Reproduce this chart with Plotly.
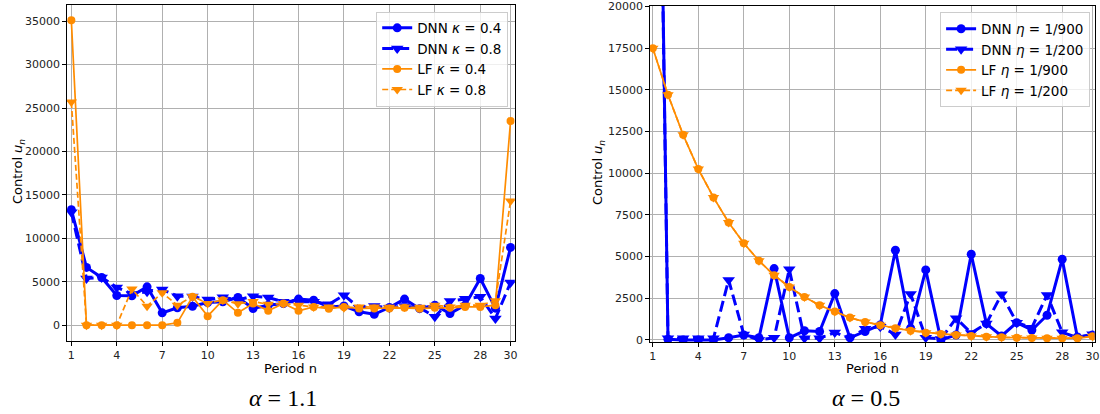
import plotly.graph_objects as go

periods = list(range(1, 31))
x_ticks = [1, 4, 7, 10, 13, 16, 19, 22, 25, 28, 30]
y_ticks_left = [0, 5000, 10000, 15000, 20000, 25000, 30000, 35000]
y_ticks_right = [0, 2500, 5000, 7500, 10000, 12500, 15000, 17500, 20000]

# alpha = 1.1 panel
dnn_k04 = [13300, 6650, 5490, 3420, 3380, 4410, 1420, 2000, 2180, 2600,
           2700, 3190, 1920, 2300, 2500, 3000, 2880, 2100, 2200, 1540,
           1250, 2030, 3000, 1900, 2300, 1340, 2300, 5370, 1960, 8950]
dnn_k08 = [13000, 5380, 5500, 4340, 3600, 3840, 4100, 3340, 3300, 2950,
           3200, 2900, 3340, 3190, 2700, 2700, 2700, 2400, 3450, 2000,
           2200, 2000, 2200, 2000, 960, 2770, 3030, 3260, 770, 4900]
lf_k04 = [35100, 0, 0, 0, 0, 0, 0, 270, 3260, 1040,
          2880, 1420, 2500, 1650, 2500, 1650, 2100, 1900, 2100, 1920,
          1920, 1920, 2000, 1900, 2000, 2000, 2100, 2100, 2300, 23500]
lf_k08 = [25700, 0, 0, 0, 4150, 2190, 3720, 2300, 3300, 2500,
          2900, 2460, 2720, 2400, 2500, 2300, 2100, 2100, 2000, 2100,
          2100, 2050, 2100, 2050, 2300, 2100, 2300, 2300, 2800, 14300]

# alpha = 0.5 panel
dnn_e900 = [62000, 40, 0, 0, 0, 130, 300, 130, 4280, 130,
            550, 510, 2780, 130, 510, 900, 5380, 700, 4200, 0,
            300, 5140, 980, 240, 1040, 600, 1480, 4840, 180, 300]
dnn_e200 = [60000, 100, 100, 100, 100, 3600, 330, 0, 130, 4240,
            100, 100, 450, 100, 680, 800, 330, 2760, 140, 60,
            1300, 420, 990, 2740, 1040, 740, 2700, 460, 140, 340]
lf_e900 = [17500, 14700, 12300, 10250, 8550, 7050, 5800, 4750, 3880, 3180,
           2580, 2080, 1700, 1340, 1080, 880, 700, 560, 440, 360,
           300, 240, 200, 160, 140, 120, 110, 100, 100, 220]
lf_e200 = [17500, 14700, 12300, 10250, 8550, 7050, 5800, 4750, 3880, 3180,
           2580, 2080, 1700, 1340, 1080, 880, 700, 560, 440, 360,
           300, 240, 200, 160, 140, 120, 110, 100, 100, 220]

BLUE = "#0000ff"
ORANGE = "#ff8c00"

fig = go.Figure()

def add(xref, yref, legend, y, name, color, width, dash, symbol, size):
    fig.add_trace(go.Scatter(
        x=periods, y=y, name=name, mode="lines+markers",
        xaxis=xref, yaxis=yref, legend=legend,
        line=dict(color=color, width=width, dash=dash),
        marker=dict(color=color, symbol=symbol, size=size),
    ))

add("x", "y", "legend", dnn_k04, "DNN <i>κ</i> = 0.4", BLUE, 3, "solid", "circle", 9)
add("x", "y", "legend", dnn_k08, "DNN <i>κ</i> = 0.8", BLUE, 3, "11px,5px", "triangle-down", 11)
add("x", "y", "legend", lf_k04, "LF <i>κ</i> = 0.4", ORANGE, 1.7, "solid", "circle", 8)
add("x", "y", "legend", lf_k08, "LF <i>κ</i> = 0.8", ORANGE, 1.7, "6px,3px", "triangle-down", 10)

add("x2", "y2", "legend2", dnn_e900, "DNN <i>η</i> = 1/900", BLUE, 3, "solid", "circle", 9)
add("x2", "y2", "legend2", dnn_e200, "DNN <i>η</i> = 1/200", BLUE, 3, "11px,5px", "triangle-down", 11)
add("x2", "y2", "legend2", lf_e900, "LF <i>η</i> = 1/900", ORANGE, 1.7, "solid", "circle", 8)
add("x2", "y2", "legend2", lf_e200, "LF <i>η</i> = 1/200", ORANGE, 1.7, "6px,3px", "triangle-down", 10)

axis_common = dict(
    showline=True, linecolor="black", linewidth=1, mirror=True,
    showgrid=True, gridcolor="#b0b0b0", gridwidth=1,
    ticks="outside", ticklen=4, tickcolor="black",
    tickfont=dict(family="DejaVu Sans", size=11, color="#222"),
    zeroline=False, automargin=False, tickformat="d",
)

fig.update_layout(
    width=1100, height=414,
    margin=dict(l=0, r=0, t=0, b=0, autoexpand=False),
    paper_bgcolor="white", plot_bgcolor="white",
    font=dict(family="DejaVu Sans", color="black"),
    xaxis=dict(domain=[0.061, 0.468], range=[0.72, 30.28], tickvals=x_ticks,
               anchor="y", **axis_common),
    yaxis=dict(domain=[0.176, 0.988], range=[-1840, 36870], tickvals=y_ticks_left,
               anchor="x", **axis_common),
    xaxis2=dict(domain=[0.591, 0.995], range=[0.82, 30.13], tickvals=x_ticks,
                anchor="y2", **axis_common),
    yaxis2=dict(domain=[0.174, 0.986], range=[-120, 20040], tickvals=y_ticks_right,
                anchor="x2", **axis_common),
    legend=dict(x=0.462, y=0.972, xanchor="right", yanchor="top",
                bgcolor="rgba(255,255,255,0.8)", bordercolor="#cccccc", borderwidth=1,
                font=dict(size=13.5), tracegroupgap=0, itemwidth=30),
    legend2=dict(x=0.991, y=0.970, xanchor="right", yanchor="top",
                 bgcolor="rgba(255,255,255,0.8)", bordercolor="#cccccc", borderwidth=1,
                 font=dict(size=13.5), tracegroupgap=0, itemwidth=30),
    showlegend=True,
)

ann_font = dict(family="DejaVu Sans", size=13, color="black")
for xc in (0.2645, 0.793):
    fig.add_annotation(x=xc, y=1 - 368 / 414, xref="paper", yref="paper",
                       xanchor="center", yanchor="middle",
                       text="Period n", showarrow=False, font=ann_font)
for xc in (18 / 1100, 598 / 1100):
    fig.add_annotation(x=xc, y=1 - 172 / 414, xref="paper", yref="paper",
                       xanchor="center", yanchor="middle",
                       text="Control <i>u</i><sub><i>n</i></sub>", showarrow=False,
                       textangle=-90, font=ann_font)

for xc, label in ((0.257, "<i>α</i> = 1.1"), (0.787, "<i>α</i> = 0.5")):
    fig.add_annotation(x=xc, y=1 - 398 / 414, xref="paper", yref="paper",
                       xanchor="center", yanchor="middle",
                       text=label, showarrow=False,
                       font=dict(family="Liberation Serif", size=24, color="black"))

fig.write_html("out.html")
